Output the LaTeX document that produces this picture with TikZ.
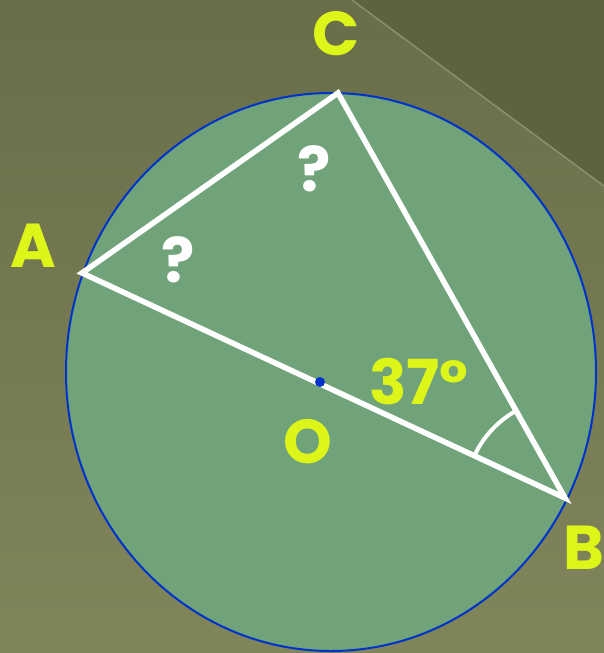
\documentclass[tikz,border=0pt]{standalone}
\usepackage{fontspec}
\setmainfont{Poppins}
\usepackage{tikz}
\usetikzlibrary{calc}
\definecolor{BGtop}{RGB}{104,110,73}
\definecolor{BGbot}{RGB}{129,133,90}
\definecolor{BGdark}{RGB}{93,99,61}
\definecolor{DiscGreen}{RGB}{112,163,121}
\definecolor{RimBlue}{RGB}{0,51,204}
\definecolor{TagYellow}{RGB}{222,245,25}

\begin{document}
\begin{tikzpicture}[x=1pt, y=-1pt,
    chord/.style={white, line width=5.5pt, line join=miter},
    tag/.style={TagYellow, inner sep=0pt, font=\fontsize{62}{62}\selectfont\bfseries},
    qmark/.style={white, inner sep=0pt, font=\fontsize{62}{62}\selectfont\bfseries}]
    % background
    \useasboundingbox (0,0) rectangle (604,653);
    \shade[top color=BGtop, bottom color=BGbot] (0,0) rectangle (604,653);
    \fill[BGdark] (352,0) -- (604,0) -- (604,186) -- cycle;
    \draw[white, opacity=0.25, line width=1.5pt] (352,0) -- (604,186);
    % circle
    \filldraw[fill=DiscGreen, draw=RimBlue, line width=2pt] (331,372) ellipse [x radius=265, y radius=279];
    \coordinate (A) at (82,273);
    \coordinate (B) at (565,498);
    \coordinate (C) at (338,93);
    \coordinate (O) at (320,382);
    % triangle
    \draw[chord] (A) -- (C) -- (B) -- cycle;
    \draw[white, line width=4pt, line cap=round] ($(B)+(205:100)$) arc[start angle=205, end angle=240.7, radius=100];
    \fill[RimBlue] (O) circle (5);
    % labels
    \node[tag] (labA) at (33,246) {A};
    \node[tag] (labB) at (584,548) {B};
    \node[tag] (labC) at (336,34) {C};
    \node[tag] (labO) at (308,442) {O};
    \node[tag] (ang) at (419,382) {37°};
    \node[qmark] (q1) at (314,169) {?};
    \node[qmark] (q2) at (178,260) {?};
\end{tikzpicture}
\end{document}
